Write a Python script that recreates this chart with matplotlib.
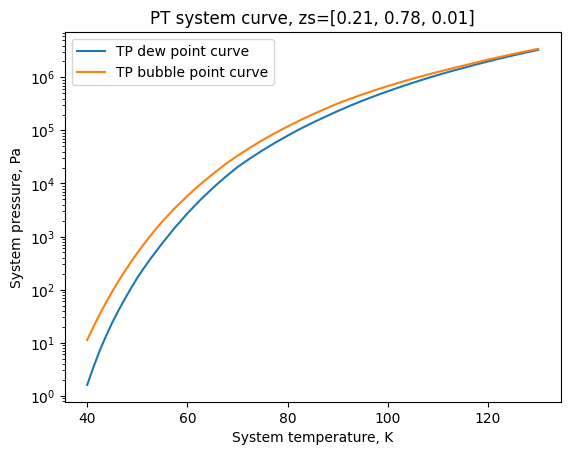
import matplotlib
matplotlib.use("Agg")
import matplotlib.pyplot as plt

temps = [40, 41.25, 42.5, 43.75, 45, 46.25, 47.5, 48.75, 50, 51.25, 52.5,
         53.75, 55, 57.5, 60, 62.5, 65, 67.5, 70, 72.5, 75, 77.5, 80, 82.5,
         85, 87.5, 90, 92.5, 95, 97.5, 100, 102.5, 105, 107.5, 110, 112.5,
         115, 117.5, 120, 122.5, 125, 127.5, 130]
dew_pressures = [1.59, 3.44, 7.06, 13.2, 23.8, 40.3, 66.2, 106, 166, 249,
                 365, 525, 750, 1470, 2730, 4810, 8090, 13100, 20400, 29700,
                 42200, 58600, 79800, 107000, 140000, 181000, 232000, 293000,
                 366000, 450000, 548000, 662000, 793000, 942000, 1.11e6,
                 1.30e6, 1.50e6, 1.74e6, 2.00e6, 2.29e6, 2.60e6, 2.94e6,
                 3.31e6]
bubble_pressures = [11.2, 19.9, 34.1, 56.6, 91.6, 144, 221, 332, 489, 705,
                    1000, 1400, 1920, 3430, 5830, 9530, 14900, 22800, 33300,
                    47400, 65800, 89500, 119000, 156000, 201000, 256000,
                    323000, 396000, 481000, 577000, 687000, 811000, 948000,
                    1.10e6, 1.27e6, 1.46e6, 1.66e6, 1.90e6, 2.17e6, 2.45e6,
                    2.76e6, 3.10e6, 3.45e6]

fig, ax = plt.subplots(figsize=(6.4, 4.8), dpi=100)
ax.plot(temps, dew_pressures, label="TP dew point curve")
ax.plot(temps, bubble_pressures, label="TP bubble point curve")
ax.set_yscale("log")
ax.set_xlabel("System temperature, K")
ax.set_ylabel("System pressure, Pa")
ax.set_title("PT system curve, zs=[0.21, 0.78, 0.01]")
ax.legend(loc="upper left")
fig.savefig("out.png", dpi=100, bbox_inches="tight")
